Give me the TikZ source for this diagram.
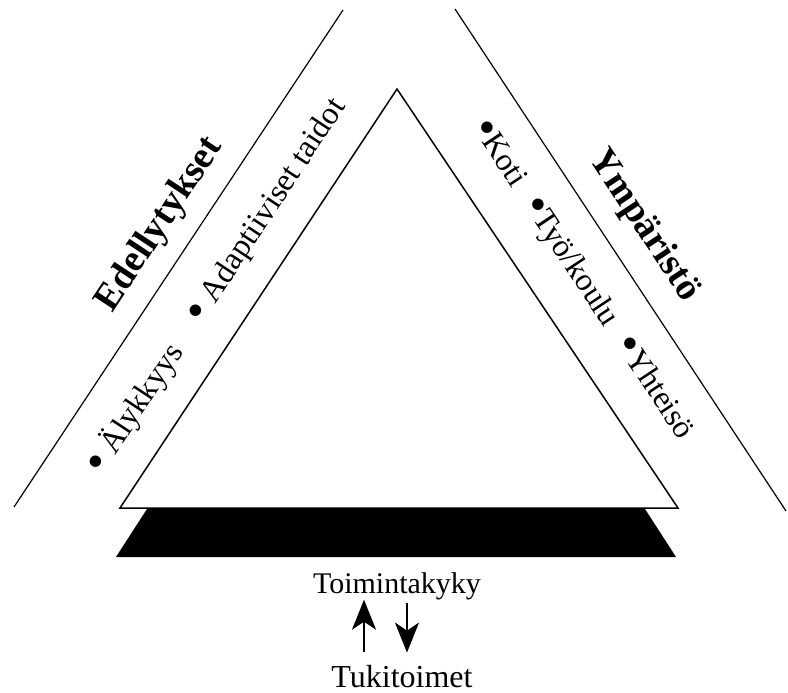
\documentclass[tikz,border=0pt]{standalone}
\usepackage{fontspec}
\setmainfont{Liberation Serif}
\usetikzlibrary{arrows.meta}
\newcommand{\dotitem}{\raisebox{-0.1em}{\scalebox{1.5}{•}}}

\begin{document}
\begin{tikzpicture}[x=1pt,y=-1pt,
band/.style={line width=1.2pt},
heading/.style={font=\fontsize{38}{42}\selectfont\bfseries, inner sep=0pt},
items/.style={font=\fontsize{32}{38}\selectfont, inner sep=0pt},
caption/.style={font=\fontsize{30}{36}\selectfont, inner sep=0pt, anchor=base},
flow/.style={line width=1.3pt, -{Stealth[length=30pt, width=24pt, inset=8pt]}},
]
\useasboundingbox (0,0) rectangle (788,693);

\fill (147,509) -- (645,509) -- (676,557) -- (116,557) -- cycle;
\draw[line width=1.5pt, fill=white] (120,508) -- (397,89) -- (678,508) -- cycle;

\draw[band] (14,507) -- (343,10);
\draw[band] (455,9) -- (786,511);

\node at (160,225) [heading, rotate=56.5] (edellytykset) {Edellytykset};
\node at (216,286) [items, rotate=56.5] (edellytykset_items) {\dotitem\ Älykkyys\quad\dotitem\ Adaptiiviset taidot};

\node at (644,226) [heading, rotate=-56.5] (ymparisto) {Ympäristö};
\node at (582,280) [items, rotate=-56.5] (ymparisto_items) {\dotitem Koti\hspace{0.6em}\dotitem Työ/koulu\hspace{0.6em}\dotitem Yhteisö};

\node at (397,593) [caption] (toimintakyky) {Toimintakyky};
\node at (402,687) [caption, font=\fontsize{32}{38}\selectfont] (tukitoimet) {Tukitoimet};
\draw[flow] ([xshift=-38pt,yshift=13pt]tukitoimet.north) -- ([xshift=-33pt]toimintakyky.south);
\draw[flow] ([xshift=10pt,yshift=-3pt]toimintakyky.south) -- ([xshift=5pt,yshift=12pt]tukitoimet.north);

\end{tikzpicture}
\end{document}
